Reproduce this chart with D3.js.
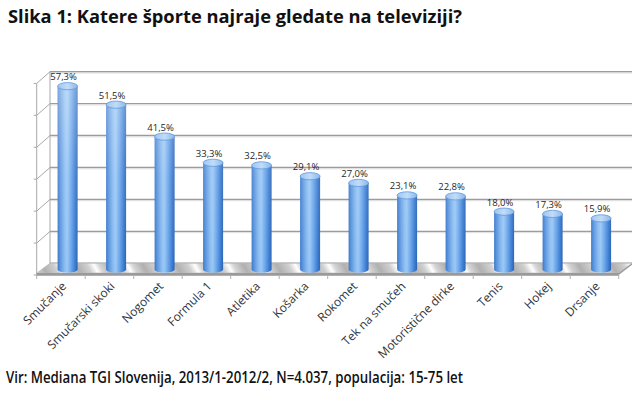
<!DOCTYPE html>
<html><head><meta charset="utf-8">
<script src="https://cdn.jsdelivr.net/npm/d3@7"></script>
<style>
html,body{margin:0;padding:0;background:#fff;}
svg{display:block;}
</style></head>
<body>
<svg id="chart" width="640" height="394"></svg>
<script>
const categories = ["Smučanje","Smučarski skoki","Nogomet","Formula 1","Atletika","Košarka","Rokomet","Tek na smučeh","Motoristične dirke","Tenis","Hokej","Drsanje"];
const values = [57.3,51.5,41.5,33.3,32.5,29.1,27.0,23.1,22.8,18.0,17.3,15.9];
const valueLabels = ["57,3%","51,5%","41,5%","33,3%","32,5%","29,1%","27,0%","23,1%","22,8%","18,0%","17,3%","15,9%"];
const gridTicks = [0,10,20,30,40,50,60];
const titleText = "Slika 1: Katere športe najraje gledate na televiziji?";
const sourceText = "Vir: Mediana TGI Slovenija, 2013/1-2012/2, N=4.037, populacija: 15-75 let";

const svg = d3.select("#chart");
const defs = svg.append("defs");

// geometry
const DX = 13.3, DY = -11.7; // depth offset front -> back
const xFront = d3.scaleBand().domain(categories).range([36.7, 618.7]).padding(0);
const y = d3.scaleLinear().domain([0,60]).range([263.3, 71.7]);
const bw = xFront.bandwidth();
const barW = 20, ry = 3.6;

// gradients
const body = defs.append("linearGradient").attr("id","cylBody").attr("x1","0").attr("x2","1").attr("y1","0").attr("y2","0");
[["0%","#3a77c9"],["12%","#5893dd"],["35%","#8abcf1"],["48%","#9ac8f5"],["70%","#64a0e8"],["88%","#3a7bd0"],["100%","#2a62b5"]]
  .forEach(s=>body.append("stop").attr("offset",s[0]).attr("stop-color",s[1]));
const shade = defs.append("linearGradient").attr("id","cylShade").attr("gradientUnits","userSpaceOnUse")
  .attr("x1",0).attr("x2",0).attr("y1",80).attr("y2",272);
[["0%",0.35],["50%",0.1],["100%",0]].forEach(s=>shade.append("stop").attr("offset",s[0]).attr("stop-color","#ffffff").attr("stop-opacity",s[1]));
const topG = defs.append("linearGradient").attr("id","cylTop").attr("x1","0").attr("x2","1");
[["0%","#9cc6f2"],["50%","#c2dcf8"],["100%","#8ab8ec"]].forEach(s=>topG.append("stop").attr("offset",s[0]).attr("stop-color",s[1]));
const floorG = defs.append("linearGradient").attr("id","floorG").attr("gradientUnits","userSpaceOnUse")
  .attr("x1",0).attr("y1",0).attr("x2",26).attr("y2",-14).attr("spreadMethod","repeat");
[["0%","#b0b0b0"],["35%","#d0d0d0"],["55%","#ffffff"],["70%","#d5d5d5"],["100%","#b0b0b0"]]
  .forEach(s=>floorG.append("stop").attr("offset",s[0]).attr("stop-color",s[1]));

const x0 = xFront.range()[0], x1 = xFront.range()[1];
const yFloorFront = y(0) - DY; // 275

// back wall gridlines
svg.append("g").selectAll("line").data(gridTicks).join("line")
  .attr("x1", x0+DX).attr("x2", x1+DX)
  .attr("y1", d=>y(d)).attr("y2", d=>y(d))
  .attr("stroke","#9c9c9c").attr("stroke-width",1.4);
svg.append("g").selectAll("line").data(gridTicks).join("line")
  .attr("x1", x0+DX).attr("x2", x1+DX)
  .attr("y1", d=>y(d)+1.3).attr("y2", d=>y(d)+1.3)
  .attr("stroke","#dedede").attr("stroke-width",1);

// left wall
const lw = svg.append("g").attr("stroke","#a8a8a8").attr("stroke-width",1).attr("fill","none");
lw.append("line").attr("x1",x0+DX).attr("x2",x0+DX).attr("y1",y(60)).attr("y2",y(0));
lw.append("line").attr("x1",x0).attr("x2",x0).attr("y1",y(60)-DY).attr("y2",yFloorFront);
lw.selectAll(".diag").data(gridTicks).join("line").attr("class","diag")
  .attr("x1",x0).attr("y1",d=>y(d)-DY).attr("x2",x0+DX).attr("y2",d=>y(d));
lw.selectAll(".tk").data(gridTicks).join("line").attr("class","tk")
  .attr("x1",x0-3).attr("y1",d=>y(d)-DY).attr("x2",x0).attr("y2",d=>y(d)-DY);

// floor
const fy0 = y(0), fy1 = y(0) - DY;
svg.append("path")
  .attr("d", `M${x0+DX},${fy0} L${x1+DX},${fy0} L${x1},${fy1-2} L${x0},${fy1-2} Z`)
  .attr("fill","url(#floorG)").attr("stroke","#bdbdbd").attr("stroke-width",0.6);
svg.append("path")
  .attr("d", `M${x0},${fy1-2} L${x1},${fy1-2} L${x1+DX},${fy0} L${x1+DX},${fy0+1.5} L${x1},${fy1} L${x0},${fy1} Z`)
  .attr("fill","#9a9a9a");

// bottom axis
svg.append("line").attr("x1",x0).attr("x2",x1).attr("y1",fy1+0.5).attr("y2",fy1+0.5).attr("stroke","#b0b0b0");
svg.append("g").selectAll("line").data(d3.range(categories.length+1)).join("line")
  .attr("x1",i=>x0+i*bw).attr("x2",i=>x0+i*bw).attr("y1",fy1).attr("y2",fy1+4)
  .attr("stroke","#b0b0b0");

// cylinders
const data = categories.map((c,i)=>({c, v:values[i], lab:valueLabels[i]}));
const cx = d => xFront(d.c) + bw/2 + DX/2;
const baseY = y(0) - DY/2;
const topY = d => y(d.v) - DY/2;
const bars = svg.append("g").selectAll("g").data(data).join("g");
const cylPath = d => {
  const l = cx(d)-barW/2, r = cx(d)+barW/2;
  return `M${l},${topY(d)} L${l},${baseY} A${barW/2},${ry} 0 0 0 ${r},${baseY} L${r},${topY(d)} Z`;
};
bars.append("path").attr("d",cylPath).attr("fill","url(#cylBody)");
bars.append("path").attr("d",cylPath).attr("fill","url(#cylShade)");
bars.append("ellipse").attr("cx",cx).attr("cy",topY).attr("rx",barW/2).attr("ry",ry)
  .attr("fill","url(#cylTop)").attr("stroke","#5f98dc").attr("stroke-width",0.8);

// value labels
bars.append("text").attr("x",d=>cx(d)-4).attr("y",d=>topY(d)-6)
  .attr("text-anchor","middle").attr("font-family","'Open Sans', sans-serif").attr("font-size",9.5)
  .attr("fill","#262626").text(d=>d.lab);

// category labels
svg.append("g").selectAll("text").data(categories).join("text")
  .attr("transform", c=>`translate(${xFront(c)+bw/2+6},${fy1+12}) rotate(-45)`)
  .attr("text-anchor","end").attr("font-family","'Open Sans', sans-serif").attr("font-size",12)
  .attr("fill","#333").text(c=>c);

// title & source
svg.append("text").attr("x",8).attr("y",23).attr("font-family","'Open Sans', sans-serif")
  .attr("font-weight","bold").attr("font-size",18).attr("fill","#111")
  .attr("textLength",454).attr("lengthAdjust","spacingAndGlyphs").text(titleText);
svg.append("text").attr("x",6).attr("y",383).attr("font-family","'Open Sans', sans-serif")
  .attr("font-weight","600").attr("font-size",16).attr("fill","#111")
  .attr("textLength",457).attr("lengthAdjust","spacingAndGlyphs").text(sourceText);
</script>
</body></html>
